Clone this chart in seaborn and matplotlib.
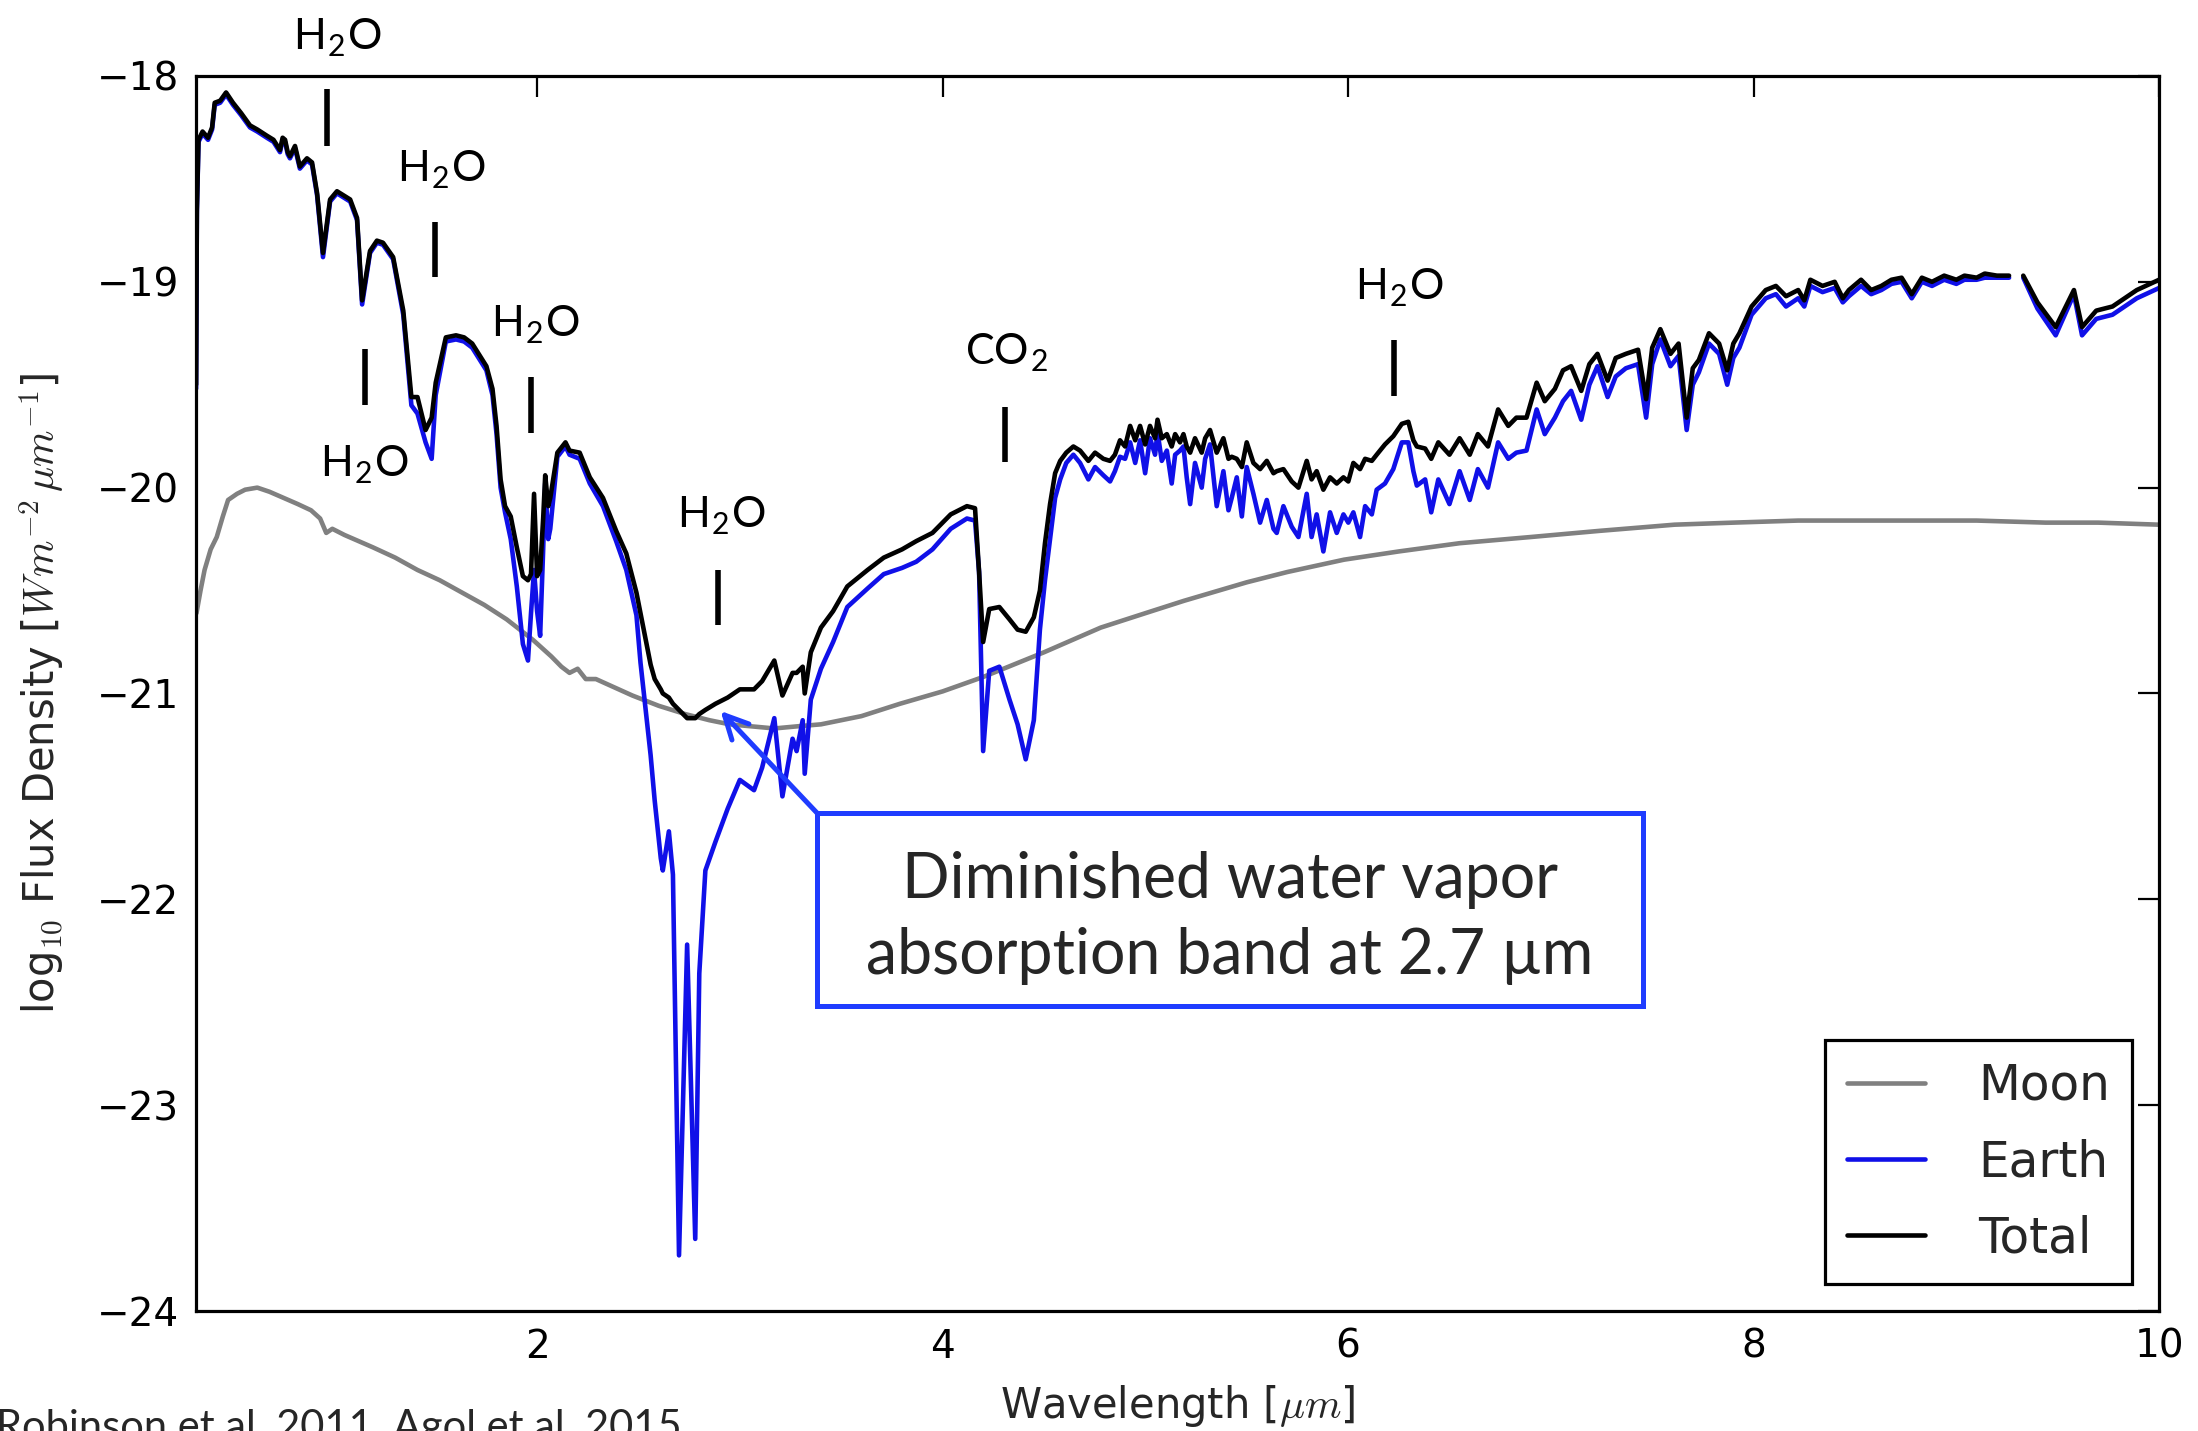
import numpy as np
import pandas as pd
import matplotlib
matplotlib.use("Agg")
import matplotlib.pyplot as plt
from matplotlib.lines import Line2D
from matplotlib.patches import Rectangle
import seaborn as sns

# ---------------------------------------------------------------------------
# Spectra (log10 flux density, W m^-2 um^-1)
# ---------------------------------------------------------------------------
moon_wavelength = [0.320, 0.340, 0.360, 0.390, 0.420, 0.450, 0.476, 0.520, 0.560, 0.620,
                   0.680, 0.750, 0.820, 0.885, 0.930, 0.960, 0.990, 1.050, 1.120, 1.190,
                   1.300, 1.410, 1.520, 1.630, 1.740, 1.850, 1.980, 2.070, 2.120, 2.160,
                   2.200, 2.240, 2.290, 2.380, 2.470, 2.600, 2.730, 2.850, 2.950, 3.060,
                   3.170, 3.280, 3.400, 3.600, 3.790, 4.000, 4.200, 4.500, 4.780, 5.000,
                   5.190, 5.500, 5.700, 5.980, 6.250, 6.550, 6.900, 7.240, 7.610, 7.900,
                   8.220, 8.500, 8.830, 9.100, 9.440, 9.700, 10.00]
moon_flux = [-20.61, -20.50, -20.40, -20.30, -20.24, -20.14, -20.06, -20.03, -20.01, -20.00,
             -20.02, -20.05, -20.08, -20.11, -20.15, -20.22, -20.20, -20.23, -20.26, -20.29,
             -20.34, -20.40, -20.45, -20.51, -20.57, -20.64, -20.74, -20.82, -20.87, -20.90,
             -20.88, -20.93, -20.93, -20.97, -21.01, -21.06, -21.10, -21.13, -21.15, -21.16,
             -21.17, -21.16, -21.15, -21.11, -21.05, -20.99, -20.92, -20.80, -20.68, -20.61,
             -20.55, -20.46, -20.41, -20.35, -20.31, -20.27, -20.24, -20.21, -20.18, -20.17,
             -20.16, -20.16, -20.16, -20.16, -20.17, -20.17, -20.18]

# Earth and Earth+Moon share one wavelength grid; NaN marks the gap near 9.3 um
wavelength = [
    # visible / near-IR
    0.318, 0.322, 0.330, 0.350, 0.377, 0.397, 0.410, 0.437, 0.466, 0.500,
    0.540, 0.584, 0.620, 0.667, 0.700, 0.732, 0.745, 0.757, 0.770, 0.781,
    0.806, 0.830, 0.865, 0.890, 0.915, 0.944, 0.979, 1.013, 1.045, 1.078,
    1.112, 1.137, 1.176, 1.210, 1.240, 1.290, 1.340, 1.380, 1.410, 1.450,
    1.480, 1.500, 1.550, 1.600, 1.640, 1.680, 1.750, 1.780, 1.800, 1.820,
    1.842,
    # 1.9 um band
    1.870, 1.900, 1.930, 1.955, 1.970, 1.985, 2.000, 2.015, 2.030, 2.040,
    2.055, 2.065, 2.100, 2.140, 2.160, 2.210, 2.260, 2.325, 2.390, 2.440,
    2.490,
    # 2.7 um water band and 4.3 um CO2 band
    2.510, 2.560, 2.580, 2.610, 2.620, 2.650, 2.670, 2.700, 2.740, 2.780,
    2.800, 2.830, 2.880, 2.940, 3.000, 3.070, 3.110, 3.170, 3.210, 3.260,
    3.280, 3.310, 3.320, 3.350, 3.400, 3.460, 3.530, 3.630, 3.710, 3.800,
    3.870, 3.950, 4.040, 4.120, 4.160, 4.180, 4.200, 4.230, 4.280, 4.330,
    4.370, 4.410, 4.450, 4.480,
    # 6.3 um water band
    4.505, 4.530, 4.555, 4.580, 4.610, 4.645, 4.678, 4.719, 4.752, 4.793,
    4.826, 4.850, 4.875, 4.900, 4.925, 4.950, 4.974, 4.999, 5.023, 5.048,
    5.060, 5.081, 5.106, 5.130, 5.147, 5.171, 5.188, 5.204, 5.221, 5.245,
    5.278, 5.295, 5.319, 5.352, 5.385, 5.410, 5.426, 5.451, 5.476, 5.500,
    5.533, 5.566, 5.599, 5.632, 5.648, 5.681, 5.722, 5.755, 5.796, 5.820,
    5.845, 5.878, 5.911, 5.944, 5.977, 6.001, 6.026, 6.059, 6.084, 6.117,
    6.141, 6.182, 6.223, 6.265, 6.297, 6.322, 6.339, 6.380, 6.410, 6.445,
    6.500, 6.550, 6.600, 6.640, 6.690, 6.740, 6.790, 6.830, 6.880, 6.930,
    6.970, 7.020, 7.060, 7.100, 7.150, 7.190, 7.230,
    # thermal window
    7.280, 7.320, 7.370, 7.430, 7.470, 7.500, 7.540, 7.590, 7.630, 7.670,
    7.700, 7.730, 7.780, 7.830, 7.870, 7.900, 7.930, 7.990, 8.060, 8.110,
    8.160, 8.220, 8.250, 8.280, 8.340, 8.400, 8.440, 8.470, 8.530, 8.580,
    8.630, 8.680, 8.730, 8.780, 8.830, 8.880, 8.940, 9.000, 9.040, 9.100,
    9.140, 9.200, 9.260, 9.290, 9.330, 9.400, 9.490, 9.580, 9.620, 9.690,
    9.770, 9.890, 10.00]

earth_flux = [
    -19.52, -18.66, -18.32, -18.28, -18.31, -18.26, -18.14, -18.13, -18.09, -18.14,
    -18.19, -18.25, -18.27, -18.30, -18.32, -18.37, -18.31, -18.32, -18.38, -18.40,
    -18.35, -18.45, -18.41, -18.43, -18.58, -18.88, -18.61, -18.57, -18.59, -18.61,
    -18.70, -19.11, -18.86, -18.81, -18.82, -18.89, -19.16, -19.60, -19.64, -19.78,
    -19.86, -19.55, -19.29, -19.28, -19.29, -19.32, -19.43, -19.55, -19.74, -20.00,
    -20.12,
    -20.25, -20.48, -20.76, -20.84, -20.61, -20.40, -20.60, -20.72, -20.30, -19.98,
    -20.25, -20.20, -19.85, -19.80, -19.84, -19.86, -19.98, -20.09, -20.26, -20.40,
    -20.62,
    -20.85, -21.30, -21.52, -21.80, -21.86, -21.67, -21.88, -23.73, -22.22, -23.65,
    -22.36, -21.86, -21.72, -21.56, -21.42, -21.47, -21.36, -21.12, -21.50, -21.22,
    -21.28, -21.13, -21.39, -21.03, -20.88, -20.75, -20.58, -20.49, -20.42, -20.39,
    -20.36, -20.30, -20.20, -20.15, -20.16, -20.41, -21.28, -20.89, -20.87, -21.03,
    -21.15, -21.32, -21.13, -20.69,
    -20.45, -20.25, -20.05, -19.96, -19.88, -19.84, -19.88, -19.96, -19.90, -19.94,
    -19.97, -19.92, -19.85, -19.86, -19.78, -19.88, -19.77, -19.93, -19.76, -19.84,
    -19.73, -19.87, -19.82, -19.98, -19.84, -19.82, -19.80, -19.95, -20.08, -19.88,
    -20.00, -19.86, -19.79, -20.09, -19.92, -20.11, -20.05, -19.95, -20.14, -19.90,
    -20.03, -20.17, -20.06, -20.20, -20.22, -20.09, -20.19, -20.24, -20.03, -20.24,
    -20.13, -20.31, -20.12, -20.22, -20.13, -20.17, -20.12, -20.24, -20.09, -20.13,
    -20.01, -19.98, -19.91, -19.78, -19.78, -19.92, -19.99, -19.96, -20.12, -19.96,
    -20.08, -19.92, -20.06, -19.91, -20.00, -19.78, -19.86, -19.83, -19.82, -19.62,
    -19.74, -19.66, -19.58, -19.53, -19.67, -19.50, -19.41,
    -19.56, -19.46, -19.42, -19.40, -19.66, -19.40, -19.28, -19.41, -19.36, -19.72,
    -19.50, -19.44, -19.30, -19.35, -19.50, -19.37, -19.32, -19.16, -19.08, -19.06,
    -19.12, -19.08, -19.12, -19.02, -19.05, -19.03, -19.10, -19.07, -19.02, -19.06,
    -19.04, -19.01, -19.00, -19.08, -19.00, -19.02, -18.99, -19.01, -18.99, -18.99,
    -18.98, -18.98, -18.98, np.nan, -18.98, -19.13, -19.26, -19.06, -19.26, -19.18,
    -19.16, -19.08, -19.03]

total_flux = [
    -19.50, -18.65, -18.31, -18.27, -18.30, -18.25, -18.13, -18.12, -18.08, -18.13,
    -18.18, -18.24, -18.26, -18.29, -18.31, -18.36, -18.30, -18.31, -18.37, -18.39,
    -18.34, -18.44, -18.40, -18.42, -18.57, -18.86, -18.60, -18.56, -18.58, -18.60,
    -18.69, -19.09, -18.85, -18.80, -18.81, -18.88, -19.14, -19.56, -19.56, -19.72,
    -19.66, -19.49, -19.27, -19.26, -19.27, -19.30, -19.41, -19.52, -19.70, -19.96,
    -20.09,
    -20.14, -20.29, -20.43, -20.45, -20.42, -20.03, -20.43, -20.40, -20.15, -19.94,
    -20.09, -20.05, -19.83, -19.78, -19.82, -19.83, -19.95, -20.05, -20.21, -20.32,
    -20.51,
    -20.61, -20.86, -20.93, -20.98, -21.00, -21.02, -21.05, -21.08, -21.12, -21.12,
    -21.10, -21.08, -21.05, -21.02, -20.98, -20.98, -20.94, -20.84, -21.01, -20.90,
    -20.90, -20.87, -21.00, -20.80, -20.68, -20.60, -20.48, -20.40, -20.34, -20.30,
    -20.26, -20.22, -20.13, -20.09, -20.10, -20.41, -20.75, -20.59, -20.58, -20.64,
    -20.69, -20.70, -20.63, -20.50,
    -20.27, -20.08, -19.93, -19.87, -19.83, -19.80, -19.82, -19.87, -19.83, -19.86,
    -19.87, -19.84, -19.77, -19.80, -19.70, -19.77, -19.70, -19.79, -19.70, -19.76,
    -19.67, -19.76, -19.74, -19.80, -19.74, -19.78, -19.74, -19.80, -19.83, -19.76,
    -19.83, -19.76, -19.72, -19.83, -19.76, -19.86, -19.85, -19.86, -19.90, -19.78,
    -19.88, -19.91, -19.87, -19.93, -19.92, -19.91, -19.97, -20.00, -19.87, -19.96,
    -19.92, -20.01, -19.95, -19.98, -19.95, -19.97, -19.88, -19.91, -19.86, -19.87,
    -19.84, -19.79, -19.75, -19.69, -19.68, -19.77, -19.80, -19.81, -19.86, -19.78,
    -19.84, -19.76, -19.84, -19.74, -19.80, -19.62, -19.70, -19.66, -19.66, -19.49,
    -19.58, -19.52, -19.43, -19.41, -19.53, -19.40, -19.35,
    -19.48, -19.37, -19.35, -19.33, -19.57, -19.32, -19.23, -19.35, -19.30, -19.66,
    -19.42, -19.38, -19.25, -19.30, -19.43, -19.30, -19.25, -19.12, -19.04, -19.02,
    -19.07, -19.04, -19.09, -18.99, -19.02, -19.00, -19.08, -19.04, -18.99, -19.04,
    -19.02, -18.99, -18.98, -19.06, -18.98, -19.00, -18.97, -18.99, -18.97, -18.98,
    -18.96, -18.97, -18.97, np.nan, -18.97, -19.10, -19.22, -19.04, -19.22, -19.14,
    -19.12, -19.04, -18.99]

series_names = ["Moon", "Earth", "Total"]
series_colors = ["#808080", "#1010e8", "#000000"]
series_widths = [3.3, 3.3, 3.3]

# Absorption-feature markers: label, label x, label baseline y, marker x, marker y range
feature_labels = ["H$_\\mathdefault{2}$O", "H$_\\mathdefault{2}$O", "H$_\\mathdefault{2}$O",
                  "H$_\\mathdefault{2}$O", "H$_\\mathdefault{2}$O", "CO$_\\mathdefault{2}$",
                  "H$_\\mathdefault{2}$O"]
feature_label_x = [1.018, 1.529, 1.152, 1.995, 2.912, 4.315, 6.256]
feature_label_y = [-17.874, -18.515, -19.948, -19.268, -20.196, -19.404, -19.088]
feature_tick_x = [0.965, 1.497, 1.151, 1.970, 2.893, 4.308, 6.227]
feature_tick_top = [-18.063, -18.709, -19.327, -19.461, -20.400, -19.607, -19.283]
feature_tick_bottom = [-18.340, -18.977, -19.599, -19.735, -20.668, -19.874, -19.555]

callout_text = "Diminished water vapor\nabsorption band at 2.7 µm"
callout_target = (2.905, -21.085)

# ---------------------------------------------------------------------------
sns.set_theme(style="white")
plt.rcParams["font.family"] = ["DejaVu Sans"]
plt.rcParams["mathtext.fontset"] = "cm"

fig = plt.figure(figsize=(21.98, 14.31), dpi=100)
ax = fig.add_axes([0.0892, 0.0839, 0.8931, 0.8630])


def series_frame(name, wl, flux):
    wl = np.asarray(wl, dtype=float)
    flux = np.asarray(flux, dtype=float)
    segment = np.cumsum(np.isnan(flux))
    frame = pd.DataFrame({"wavelength": wl, "flux": flux,
                          "series": name, "segment": segment})
    return frame.dropna()


frames = {
    "Moon": series_frame("Moon", moon_wavelength, moon_flux),
    "Earth": series_frame("Earth", wavelength, earth_flux),
    "Total": series_frame("Total", wavelength, total_flux),
}

for name, color, lw in zip(series_names, series_colors, series_widths):
    sns.lineplot(data=frames[name], x="wavelength", y="flux", units="segment",
                 estimator=None, sort=False, color=color, linewidth=lw,
                 legend=False, ax=ax)

ax.set_xlim(0.318, 10)
ax.set_ylim(-24, -18)
ax.set_xticks([2, 4, 6, 8, 10])
ax.set_yticks([-24, -23, -22, -21, -20, -19, -18])
ax.tick_params(direction="in", length=15, width=1.6, top=True, right=True,
               labelsize=28, pad=12, colors="black")
for spine in ax.spines.values():
    spine.set_linewidth(2.3)
    spine.set_color("black")

ax.set_xlabel(r"Wavelength [$\mu m$]", fontsize=30)
ax.set_ylabel(r"log$_{10}$ Flux Density [$Wm^{-2}\,\mu m^{-1}$]", fontsize=30)
ax.xaxis.set_label_coords(0.5, -0.058)
ax.yaxis.set_label_coords(-0.066, 0.5)

handles = [Line2D([], [], color=c, lw=lw) for c, lw in zip(series_colors, series_widths)]
leg = ax.legend(handles, series_names, loc="lower right", fontsize=35,
                frameon=True, fancybox=False, framealpha=1, edgecolor="black",
                handlelength=1.6, handletextpad=1.1, labelspacing=0.58,
                borderpad=0.45, borderaxespad=0.55)
leg.get_frame().set_linewidth(2.3)

# absorption-feature markers
for lab, lx, ly, tx, t0, t1 in zip(feature_labels, feature_label_x, feature_label_y,
                                   feature_tick_x, feature_tick_top, feature_tick_bottom):
    ax.text(lx, ly, lab, ha="center", va="baseline", fontsize=31,
            family="Lato", color="black", clip_on=False)
    ax.vlines(tx, t1, t0, color="black", linewidth=4, clip_on=False)

# call-out box
box_color = "#1f3cff"
ax.add_patch(Rectangle((3.381, -22.519), 7.455 - 3.381, 22.519 - 21.581,
                       facecolor="white", edgecolor=box_color, linewidth=3.6,
                       zorder=5))
ax.text(5.418, -22.09, callout_text, ha="center", va="center", fontsize=45,
        family="Lato", linespacing=1.38, zorder=6)
ax.annotate("", xy=callout_target, xytext=(3.381, -21.581),
            arrowprops=dict(arrowstyle="->", color=box_color, lw=3.6,
                            mutation_scale=42, shrinkA=0, shrinkB=0),
            zorder=6)

fig.text(-0.002, 1 - 1409 / 1431, "Robinson et al. 2011, Agol et al. 2015",
         ha="left", va="top", fontsize=30, family="Lato")

fig.savefig("out.png", dpi=100, facecolor="white")
